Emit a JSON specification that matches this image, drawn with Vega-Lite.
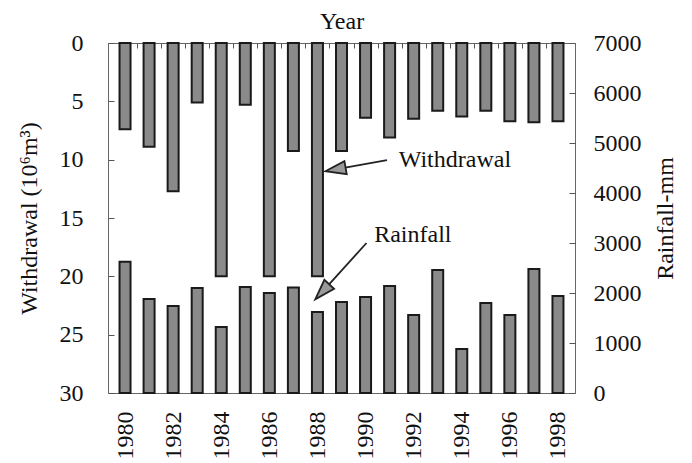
{
  "$schema": "https://vega.github.io/schema/vega-lite/v6.json",
  "width": 467,
  "height": 350,
  "autosize": {"type": "none"},
  "padding": {"left": 108, "top": 43, "right": 117, "bottom": 70},
  "background": "white",
  "config": {
    "view": {"stroke": "#666", "strokeWidth": 1},
    "axis": {
      "labelFont": "Liberation Serif",
      "titleFont": "Liberation Serif",
      "labelFontSize": 24,
      "titleFontSize": 24,
      "titleFontWeight": "normal",
      "labelColor": "#111",
      "titleColor": "#111",
      "tickColor": "#555",
      "domain": false,
      "grid": false
    },
    "text": {"font": "Liberation Serif", "fontSize": 24, "color": "#111"}
  },
  "datasets": {
    "main": [
      {"year": 1980, "withdrawal": 7.4, "rainfall": 2626},
      {"year": 1981, "withdrawal": 8.9, "rainfall": 1880},
      {"year": 1982, "withdrawal": 12.7, "rainfall": 1740},
      {"year": 1983, "withdrawal": 5.1, "rainfall": 2100},
      {"year": 1984, "withdrawal": 20, "rainfall": 1320},
      {"year": 1985, "withdrawal": 5.3, "rainfall": 2120},
      {"year": 1986, "withdrawal": 20, "rainfall": 2000},
      {"year": 1987, "withdrawal": 9.25, "rainfall": 2110},
      {"year": 1988, "withdrawal": 20, "rainfall": 1620},
      {"year": 1989, "withdrawal": 9.25, "rainfall": 1820},
      {"year": 1990, "withdrawal": 6.4, "rainfall": 1920},
      {"year": 1991, "withdrawal": 8.1, "rainfall": 2140},
      {"year": 1992, "withdrawal": 6.5, "rainfall": 1560},
      {"year": 1993, "withdrawal": 5.8, "rainfall": 2460},
      {"year": 1994, "withdrawal": 6.3, "rainfall": 880},
      {"year": 1995, "withdrawal": 5.8, "rainfall": 1800},
      {"year": 1996, "withdrawal": 6.7, "rainfall": 1560},
      {"year": 1997, "withdrawal": 6.8, "rainfall": 2480},
      {"year": 1998, "withdrawal": 6.7, "rainfall": 1940}
    ],
    "wlabel": [{"x": 1991.38, "y": 10.0, "label": "Withdrawal"}],
    "warrow": [{"x": 1990.89, "y": 10.03, "x2": 1988.75, "y2": 10.84}],
    "whead": [{"x": 1988.75, "y": 10.84}],
    "rlabel": [{"x": 1990.36, "y": 3160, "label": "Rainfall"}],
    "rarrow": [{"x": 1990.04, "y": 3000, "x2": 1988.2, "y2": 2024}],
    "rhead": [{"x": 1988.2, "y": 2024}]
  },
  "layer": [
    {
      "data": {"name": "main"},
      "mark": {"type": "bar", "orient": "vertical", "width": 11, "fill": "#8a8a8a", "stroke": "#1a1a1a", "strokeWidth": 2},
      "encoding": {
        "x": {"field": "year", "type": "quantitative",
              "scale": {"domain": [1979.5, 1998.5], "nice": false, "zero": false},
              "axis": {"orient": "bottom", "title": null, "values": [1980,1982,1984,1986,1988,1990,1992,1994,1996,1998],
                       "format": "d", "ticks": false, "labelAngle": -90, "labelPadding": 18}},
        "y": {"field": "withdrawal", "type": "quantitative",
              "scale": {"domain": [0, 30], "reverse": true, "nice": false},
              "axis": {"orient": "left", "title": "Withdrawal (10⁶m³)", "values": [0,5,10,15,20,25,30],
                       "tickSize": -6, "labelPadding": 31, "titlePadding": 18}}
      }
    },
    {
      "data": {"name": "main"},
      "mark": {"type": "bar", "orient": "vertical", "width": 11, "fill": "#8a8a8a", "stroke": "#1a1a1a", "strokeWidth": 2},
      "encoding": {
        "x": {"field": "year", "type": "quantitative",
              "axis": {"orient": "top", "title": "Year", "labels": false, "tickSize": -5,
                       "values": [1980.5,1981.5,1982.5,1983.5,1984.5,1985.5,1986.5,1987.5,1988.5,1989.5,1990.5,1991.5,1992.5,1993.5,1994.5,1995.5,1996.5,1997.5],
                       "titlePadding": 9}},
        "y": {"field": "rainfall", "type": "quantitative",
              "scale": {"domain": [0, 7000], "nice": false},
              "axis": {"orient": "right", "title": "Rainfall-mm", "titleAngle": -90, "values": [0,1000,2000,3000,4000,5000,6000,7000],
                       "format": "d", "tickSize": -6, "labelPadding": 24, "titlePadding": 36}}
      }
    },
    {
      "data": {"name": "wlabel"},
      "mark": {"type": "text", "align": "left", "baseline": "middle"},
      "encoding": {
        "x": {"field": "x", "type": "quantitative", "axis": null},
        "y": {"field": "y", "type": "quantitative", "scale": {"domain": [0, 30], "reverse": true, "nice": false}, "axis": null},
        "text": {"field": "label"}
      }
    },
    {
      "data": {"name": "warrow"},
      "mark": {"type": "rule", "color": "#222", "strokeWidth": 1.8},
      "encoding": {
        "x": {"field": "x", "type": "quantitative", "axis": null},
        "x2": {"field": "x2"},
        "y": {"field": "y", "type": "quantitative", "scale": {"domain": [0, 30], "reverse": true, "nice": false}, "axis": null},
        "y2": {"field": "y2"}
      }
    },
    {
      "data": {"name": "whead"},
      "mark": {"type": "point", "shape": "M0,-1L0.65,1L-0.65,1Z", "filled": true, "fill": "#999", "stroke": "#222", "strokeWidth": 1.8, "size": 420, "angle": 260, "opacity": 1},
      "encoding": {
        "x": {"field": "x", "type": "quantitative", "axis": null},
        "y": {"field": "y", "type": "quantitative", "scale": {"domain": [0, 30], "reverse": true, "nice": false}, "axis": null}
      }
    },
    {
      "data": {"name": "rlabel"},
      "mark": {"type": "text", "align": "left", "baseline": "middle"},
      "encoding": {
        "x": {"field": "x", "type": "quantitative", "axis": null},
        "y": {"field": "y", "type": "quantitative", "scale": {"domain": [0, 7000], "nice": false}, "axis": null},
        "text": {"field": "label"}
      }
    },
    {
      "data": {"name": "rarrow"},
      "mark": {"type": "rule", "color": "#222", "strokeWidth": 1.8},
      "encoding": {
        "x": {"field": "x", "type": "quantitative", "axis": null},
        "x2": {"field": "x2"},
        "y": {"field": "y", "type": "quantitative", "scale": {"domain": [0, 7000], "nice": false}, "axis": null},
        "y2": {"field": "y2"}
      }
    },
    {
      "data": {"name": "rhead"},
      "mark": {"type": "point", "shape": "M0,-1L0.65,1L-0.65,1Z", "filled": true, "fill": "#999", "stroke": "#222", "strokeWidth": 1.8, "size": 420, "angle": 223, "opacity": 1},
      "encoding": {
        "x": {"field": "x", "type": "quantitative", "axis": null},
        "y": {"field": "y", "type": "quantitative", "scale": {"domain": [0, 7000], "nice": false}, "axis": null}
      }
    }
  ],
  "resolve": {"scale": {"y": "independent"}, "axis": {"x": "independent", "y": "independent"}}
}
